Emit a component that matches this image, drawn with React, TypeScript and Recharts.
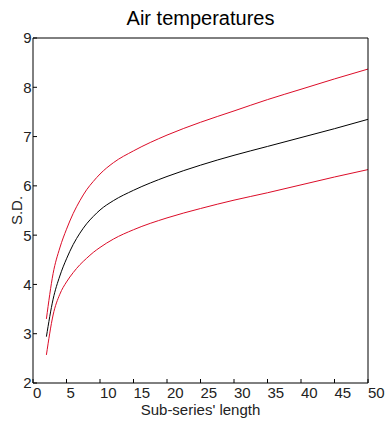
import React from 'react';
import { LineChart, Line, XAxis, YAxis, Label } from 'recharts';

// sub-series length (x) and the three S.D. curves
const lengths = [2, 3, 4, 5, 6, 7, 8, 9, 10, 12, 15, 20, 25, 30, 35, 40, 45, 50];
const upperSd = [3.3, 4.22, 4.74, 5.12, 5.44, 5.7, 5.92, 6.09, 6.24, 6.47, 6.71, 7.03, 7.29, 7.52, 7.75, 7.96, 8.17, 8.37];
const meanSd = [2.94, 3.7, 4.17, 4.52, 4.81, 5.04, 5.23, 5.38, 5.51, 5.7, 5.91, 6.19, 6.42, 6.62, 6.8, 6.98, 7.16, 7.35];
const lowerSd = [2.57, 3.38, 3.8, 4.05, 4.24, 4.4, 4.53, 4.65, 4.75, 4.92, 5.11, 5.35, 5.54, 5.71, 5.86, 6.02, 6.18, 6.33];

const xTicks = [0, 5, 10, 15, 20, 25, 30, 35, 40, 45, 50];
const yTicks = [2, 3, 4, 5, 6, 7, 8, 9];

const RED = '#dc0c28';
const FONT = '"Liberation Sans", Arial, sans-serif';

const rows = lengths.map((len, i) => ({
  len,
  upper: upperSd[i],
  mean: meanSd[i],
  lower: lowerSd[i],
}));

const XTick = ({ x, y, payload }: any) => (
  <text x={x} y={y} dy="0.71em" textAnchor="start" fontSize={15} fill="#222">
    {payload.value}
  </text>
);

const YTick = ({ x, y, payload }: any) => (
  <text x={x} y={y} dy="0.36em" textAnchor="end" fontSize={15} fill="#222">
    {payload.value}
  </text>
);

const YTitle = ({ viewBox }: any) => {
  const cx = viewBox.x + 21.5;
  const cy = viewBox.y + viewBox.height / 2;
  return (
    <text x={cx} y={cy} textAnchor="middle" fontSize={15} fill="#222" transform={`rotate(-90, ${cx}, ${cy})`}>
      S.D.
    </text>
  );
};

export default function App() {
  return (
    <div style={{ position: 'absolute', left: 0, top: 0, width: 392, height: 426, background: '#fff', fontFamily: FONT }}>
      <div style={{ position: 'absolute', left: 0, top: 8, width: 401, textAlign: 'center', fontSize: 20, lineHeight: '20px', color: '#000' }}>
        Air temperatures
      </div>
      <LineChart width={392} height={426} data={rows} margin={{ top: 37, right: 23, bottom: 0, left: 0 }}>
        <XAxis
          xAxisId="b"
          dataKey="len"
          type="number"
          domain={[0, 50]}
          ticks={xTicks}
          height={43}
          stroke="#000"
          tickSize={-4}
          tickMargin={8}
          tick={<XTick />}
        >
          <Label value="Sub-series' length" position="insideBottom" offset={11} fontSize={15} fill="#222" />
        </XAxis>
        <XAxis
          xAxisId="t"
          orientation="top"
          dataKey="len"
          type="number"
          domain={[0, 50]}
          ticks={xTicks}
          height={1}
          stroke="#000"
          tickSize={-4}
          tick={false}
        />
        <YAxis
          yAxisId="l"
          type="number"
          domain={[2, 9]}
          ticks={yTicks}
          width={33}
          stroke="#000"
          tickSize={-4}
          tickMargin={5.5}
          tick={<YTick />}
        >
          <Label content={<YTitle />} />
        </YAxis>
        <YAxis
          yAxisId="r"
          orientation="right"
          type="number"
          domain={[2, 9]}
          ticks={yTicks}
          width={1}
          stroke="#000"
          tickSize={-4}
          tick={false}
        />
        <Line xAxisId="b" yAxisId="l" type="monotone" dataKey="upper" stroke={RED} strokeWidth={1} dot={false} isAnimationActive={false} />
        <Line xAxisId="b" yAxisId="l" type="monotone" dataKey="mean" stroke="#000" strokeWidth={1} dot={false} isAnimationActive={false} />
        <Line xAxisId="b" yAxisId="l" type="monotone" dataKey="lower" stroke={RED} strokeWidth={1} dot={false} isAnimationActive={false} />
      </LineChart>
    </div>
  );
}
